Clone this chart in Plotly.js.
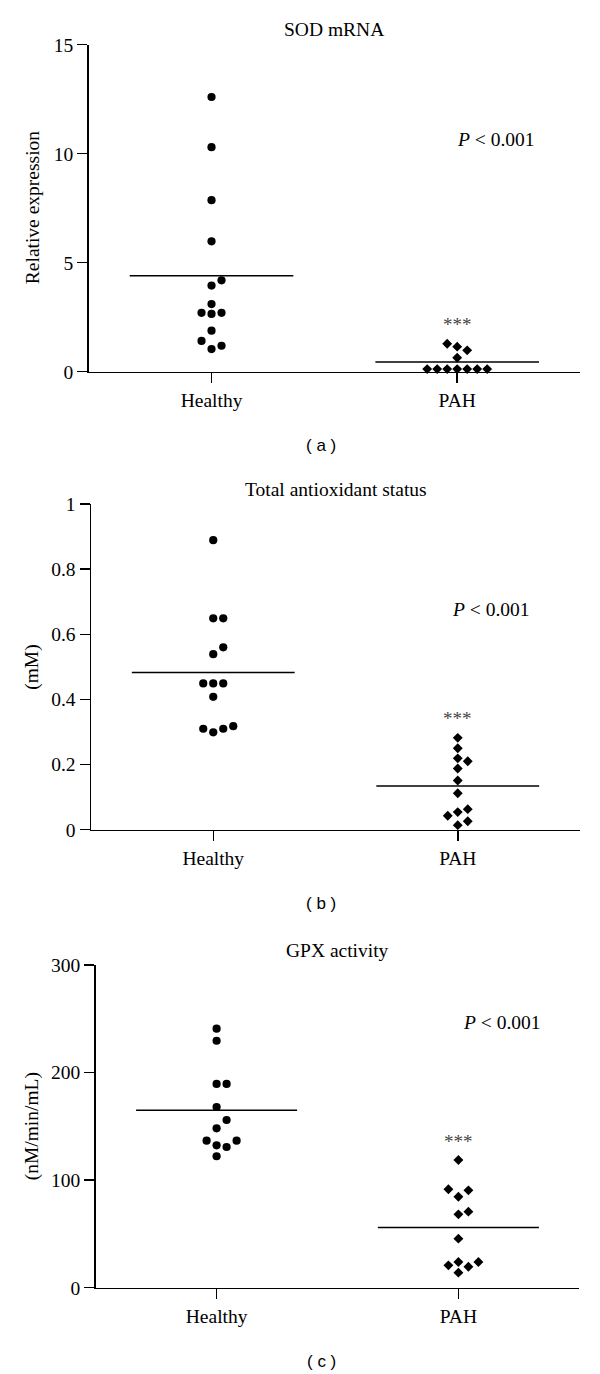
<!DOCTYPE html>
<html>
<head>
<meta charset="utf-8">
<script src="https://cdn.plot.ly/plotly-3.0.1.min.js"></script>
<style>
  html, body { margin: 0; padding: 0; background: #fff; }
  #chart { width: 600px; height: 1374px; }
</style>
</head>
<body>
<div id="chart"></div>
<script>
// ---------------- data ----------------
const categories = ['Healthy', 'PAH'];

const sodHealthy = [12.6, 10.3, 7.87, 5.98, 4.19, 3.95, 3.1, 2.7, 2.65, 2.7, 1.88, 1.41, 1.19, 1.04];
const sodPAH     = [1.28, 1.15, 0.98, 0.64, 0.12, 0.12, 0.12, 0.12, 0.12, 0.12, 0.12];

const tasHealthy = [0.889, 0.649, 0.649, 0.56, 0.539, 0.449, 0.449, 0.449, 0.408, 0.31, 0.299, 0.31, 0.318];
const tasPAH     = [0.282, 0.25, 0.219, 0.21, 0.188, 0.151, 0.112, 0.063, 0.054, 0.043, 0.026, 0.014];

const gpxHealthy = [240.8, 229.6, 189.4, 189.4, 168, 155.9, 148.2, 136.7, 136.7, 132.4, 130.8, 122.2];
const gpxPAH     = [118.7, 91.5, 90.5, 84.6, 70.7, 68.2, 45.6, 23.9, 23.9, 20.8, 19.5, 14];

const sodTicks = [0, 5, 10, 15];
const tasTicks = [0, 0.2, 0.4, 0.6, 0.8, 1];
const tasTickText = ['0', '0.2', '0.4', '0.6', '0.8', '1'];
const gpxTicks = [0, 100, 200, 300];

const panelTitles = ['SOD mRNA', 'Total antioxidant status', 'GPX activity'];
const yTitles = ['Relative expression', '(mM)', '(nM/min/mL)'];
const panelLabels = ['( a )', '( b )', '( c )'];
const pValueText = '<i>P</i> &lt; 0.001';
const sigText = '***';

// ---------------- layout geometry (pixels) ----------------
const W = 600, H = 1374;
const geom = [
  { left: 88.7, right: 580,   top: 44.7, bottom: 371.7,  yr: [0, 15],  pX: 496, pY: 139 },
  { left: 91,   right: 580,   top: 504,  bottom: 829.7,  yr: [0, 1],   pX: 491, pY: 609 },
  { left: 95.7, right: 579.3, top: 965,  bottom: 1287.7, yr: [0, 300], pX: 502, pY: 1022 }
];
const xr = [-0.5, 1.5];

const groups = [
  [sodHealthy, sodPAH],
  [tasHealthy, tasPAH],
  [gpxHealthy, gpxPAH]
];
const ticks = [
  { vals: sodTicks, text: sodTicks.map(String) },
  { vals: tasTicks, text: tasTickText },
  { vals: gpxTicks, text: gpxTicks.map(String) }
];

// beeswarm-like placement: ascending, first free column in order 0,+1,-1,+2,-2...
function swarm(values, pxPerUnit, thrPx) {
  const idx = values.map((v, i) => i).sort((a, b) => values[a] - values[b]);
  const placed = [];
  const slots = new Array(values.length).fill(0);
  const order = [0, 1, -1, 2, -2, 3, -3, 4, -4, 5, -5];
  idx.forEach(i => {
    const v = values[i];
    for (const k of order) {
      const hit = placed.some(p => p.slot === k && Math.abs(p.v - v) * pxPerUnit < thrPx);
      if (!hit) { placed.push({ v: v, slot: k }); slots[i] = k; break; }
    }
  });
  return slots;
}

const mean = a => a.reduce((s, v) => s + v, 0) / a.length;

const traces = [];
const shapes = [];
const annotations = [];
const layout = {
  width: W, height: H,
  margin: { l: 0, r: 0, t: 0, b: 0 },
  paper_bgcolor: '#fff', plot_bgcolor: '#fff',
  showlegend: false,
  font: { family: 'Liberation Serif, serif', color: '#000' },
  shapes: shapes,
  annotations: annotations
};

const font = 'Liberation Serif, serif';

geom.forEach((g, p) => {
  const n = p === 0 ? '' : String(p + 1);
  const xa = 'xaxis' + n, ya = 'yaxis' + n;
  const xref = 'x' + n, yref = 'y' + n;
  const plotW = g.right - g.left, plotH = g.bottom - g.top;
  const pxPerY = plotH / (g.yr[1] - g.yr[0]);
  const stepX = 10 / (plotW / (xr[1] - xr[0]));

  layout[xa] = {
    domain: [g.left / W, g.right / W],
    anchor: yref,
    range: xr,
    tickmode: 'array', tickvals: [0, 1], ticktext: categories,
    showgrid: false, zeroline: false,
    showline: true, linecolor: '#000', linewidth: 1.5,
    ticks: 'outside', ticklen: 10, tickwidth: 1.5, tickcolor: '#000',
    tickfont: { family: font, size: 19.5, color: '#000' },
    fixedrange: true
  };
  layout[ya] = {
    domain: [1 - g.bottom / H, 1 - g.top / H],
    anchor: xref,
    range: g.yr,
    tickmode: 'array', tickvals: ticks[p].vals, ticktext: ticks[p].text,
    showgrid: false, zeroline: false,
    showline: true, linecolor: '#000', linewidth: 1.5,
    ticks: 'outside', ticklen: 10, tickwidth: 1.5, tickcolor: '#000',
    tickfont: { family: font, size: 19.5, color: '#000' },
    fixedrange: true
  };

  groups[p].forEach((vals, c) => {
    const slots = swarm(vals, pxPerY, 9.5);
    traces.push({
      type: 'scatter', mode: 'markers',
      x: vals.map((v, i) => c + slots[i] * stepX),
      y: vals,
      xaxis: xref, yaxis: yref,
      cliponaxis: false,
      marker: {
        symbol: c === 0 ? 'circle' : 'diamond',
        size: c === 0 ? 8.2 : 7.6,
        color: '#000',
        line: { width: 0 }
      },
      hoverinfo: 'y'
    });
    const m = mean(vals);
    shapes.push({
      type: 'line', xref: xref, yref: yref,
      x0: c - 0.333, x1: c + 0.333, y0: m, y1: m,
      line: { color: '#000', width: 1.5 }
    });
  });

  // significance stars above the PAH group
  annotations.push({
    xref: xref, yref: yref, x: 1, y: Math.max(...groups[p][1]),
    yshift: 19, xanchor: 'center', yanchor: 'middle',
    text: sigText, showarrow: false,
    font: { family: font, size: 19, color: '#444' }
  });

  // panel title
  annotations.push({
    xref: 'paper', yref: 'paper',
    x: (g.left + g.right) / 2 / W, y: 1 - (g.top - 15) / H,
    xanchor: 'center', yanchor: 'middle',
    text: panelTitles[p], showarrow: false,
    font: { family: font, size: 19.5, color: '#000' }
  });

  // y axis title
  annotations.push({
    xref: 'paper', yref: 'paper',
    x: 32 / W, y: 1 - (g.top + g.bottom) / 2 / H,
    xanchor: 'center', yanchor: 'middle', textangle: -90,
    text: yTitles[p], showarrow: false,
    font: { family: font, size: 19.5, color: '#000' }
  });

  // P value
  annotations.push({
    xref: 'paper', yref: 'paper',
    x: g.pX / W, y: 1 - g.pY / H,
    xanchor: 'center', yanchor: 'middle',
    text: pValueText, showarrow: false,
    font: { family: font, size: 19.5, color: '#000' }
  });

  // panel label
  annotations.push({
    xref: 'paper', yref: 'paper',
    x: 321 / W, y: 1 - (g.bottom + 73.5) / H,
    xanchor: 'center', yanchor: 'middle',
    text: panelLabels[p], showarrow: false,
    font: { family: 'Liberation Sans, Arial, sans-serif', size: 17, color: '#000' }
  });
});

Plotly.newPlot('chart', traces, layout, { displayModeBar: false, staticPlot: true });
</script>
</body>
</html>
